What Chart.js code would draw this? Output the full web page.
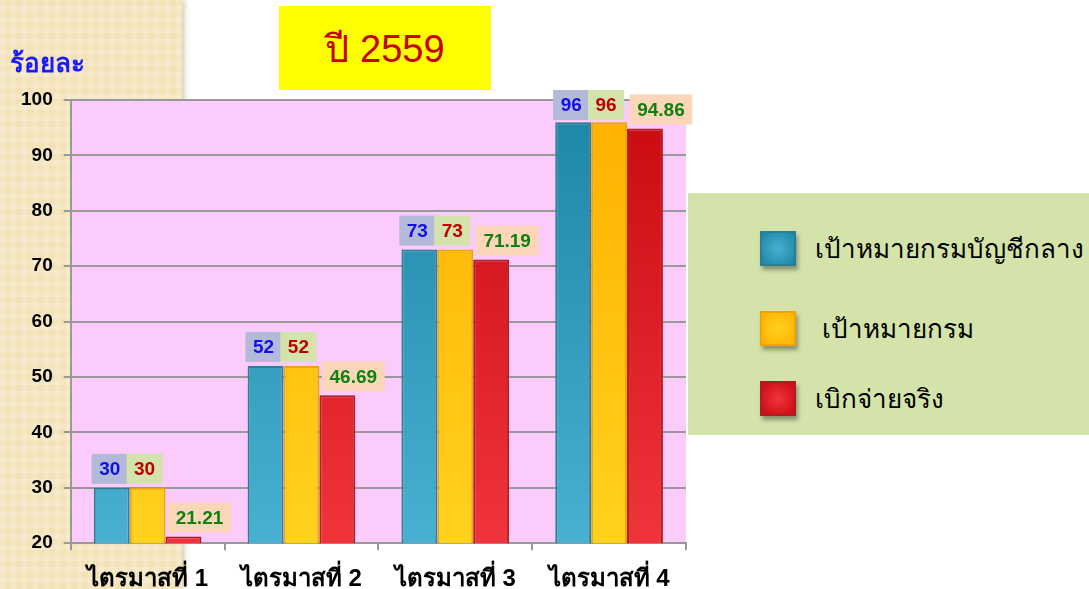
<!DOCTYPE html>
<html>
<head>
<meta charset="utf-8">
<script src="https://cdn.jsdelivr.net/npm/chart.js@4"></script>
<style>
  html, body { margin: 0; padding: 0; width: 1089px; height: 589px; overflow: hidden; background: #fff; }
  body { position: relative; font-family: "Liberation Sans", Arial, "DejaVu Sans", sans-serif; }
  .strip {
    position: absolute; left: 0; top: 0; width: 182px; height: 589px;
    background-color: #f3e2b6;
    background-image:
      linear-gradient(90deg, rgba(255,255,255,0.18) 50%, transparent 50%),
      linear-gradient(0deg, rgba(255,255,255,0.18) 50%, transparent 50%);
    background-size: 11px 11px;
    box-shadow: 3px 0 5px rgba(150,120,60,0.35);
  }
  .title {
    position: absolute; left: 279px; top: 6px; width: 212px; height: 84px;
    background: #ffff00; color: #c80000; font-size: 38px;
    display: flex; align-items: center; justify-content: center;
  }
  .ytitle { position: absolute; left: 10px; top: 42px; color: #1a1aff; font-size: 26px; font-weight: bold; }
  #chart { position: absolute; left: 0; top: 0; }
  .legend {
    position: absolute; left: 688px; top: 193px; width: 401px; height: 242px;
    background: #d3e3a9;
  }
  .legend .item { position: absolute; left: 72px; display: flex; align-items: center; font-size: 26px; color: #000; white-space: nowrap; }
  .legend .sw { width: 36px; height: 35px; margin-right: 19px; box-shadow: 2px 4px 4px rgba(0,0,0,0.35); box-sizing: border-box; border: 2px solid; flex: none; }
</style>
</head>
<body>
<div class="strip"></div>
<canvas id="chart" width="1089" height="619" style="width:1089px;height:619px"></canvas>
<div class="title">ปี 2559</div>
<div class="ytitle">ร้อยละ</div>
<div class="legend" id="legend"></div>
<script>
// ข้อมูล
const quarters = ['ไตรมาสที่ 1', 'ไตรมาสที่ 2', 'ไตรมาสที่ 3', 'ไตรมาสที่ 4'];
const seriesNames = ['เป้าหมายกรมบัญชีกลาง', ' เป้าหมายกรม', 'เบิกจ่ายจริง'];
const targetCGD = [30, 52, 73, 96];
const targetDept = [30, 52, 73, 96];
const actualPaid = [21.21, 46.69, 71.19, 94.86];
const yTicks = [20, 30, 40, 50, 60, 70, 80, 90, 100];

const barTop = ['#1c86a6', '#ffb000', '#c80a10'];
const barBottom = ['#48b0d0', '#ffd21e', '#f0343c'];
const barBorder = ['#2a7f96', '#f0a400', '#b01c22'];
const labelBg = ['#b3b9d9', '#d3e3ab', '#fbd6b8'];
const labelColor = ['#1010e6', '#c00000', '#108010'];
const labelShift = [-2, -3, 16];

function grad(i) {
    return (context) => {
        const chart = context.chart;
        const area = chart.chartArea;
        if (!area) return barTop[i];
        const g = chart.ctx.createLinearGradient(0, area.top, 0, area.bottom);
        g.addColorStop(0, barTop[i]);
        g.addColorStop(1, barBottom[i]);
        return g;
    };
}

const plotBg = {
    id: 'plotBg',
    beforeDraw(chart) {
        const { ctx, chartArea: a } = chart;
        ctx.save();
        ctx.fillStyle = '#facbfb';
        ctx.fillRect(a.left, a.top, a.right - a.left, a.bottom - a.top);
        ctx.restore();
    }
};

// ป้ายค่าเหนือแท่ง
const valueLabels = {
    id: 'valueLabels',
    afterDatasetsDraw(chart) {
        const ctx = chart.ctx;
        ctx.save();
        ctx.font = 'bold 19px "Liberation Sans", Arial, sans-serif';
        ctx.textAlign = 'center';
        ctx.textBaseline = 'middle';
        chart.data.datasets.forEach((ds, i) => {
            const meta = chart.getDatasetMeta(i);
            meta.data.forEach((bar, j) => {
                const txt = String(ds.data[j]);
                const w = ctx.measureText(txt).width + 15;
                const h = 30;
                const cx = bar.x + labelShift[i];
                const b = bar.y - 4 < chart.chartArea.top + h ? Math.max(bar.y - 4, 120) : bar.y - 4;
                ctx.fillStyle = labelBg[i];
                ctx.fillRect(cx - w / 2, b - h, w, h);
                ctx.fillStyle = labelColor[i];
                ctx.fillText(txt, cx, b - h / 2 + 1);
            });
        });
        ctx.restore();
    }
};

const datasets = [targetCGD, targetDept, actualPaid].map((d, i) => ({
    label: seriesNames[i],
    data: d,
    backgroundColor: grad(i),
    borderColor: barBorder[i],
    borderWidth: 2,
    categoryPercentage: 0.7,
    barPercentage: 1.0
}));

new Chart(document.getElementById('chart'), {
    type: 'bar',
    data: { labels: quarters, datasets },
    options: {
        responsive: false,
        animation: false,
        layout: { padding: { left: 10, right: 403, top: 100, bottom: 10 } },
        plugins: { legend: { display: false }, tooltip: { enabled: false } },
        scales: {
            y: {
                min: 20, max: 100,
                afterBuildTicks: (axis) => { axis.ticks = yTicks.map(v => ({ value: v })); },
                ticks: { color: '#000', font: { size: 19, weight: 'bold', family: '"Liberation Sans", Arial, sans-serif' }, padding: 11 },
                grid: { color: '#999', lineWidth: 2, tickLength: 7 },
                border: { color: '#999', width: 2 }
            },
            x: {
                ticks: { color: '#000', font: { size: 24, weight: 'bold', family: '"Liberation Sans", Arial, sans-serif' }, padding: 15 },
                grid: { offset: true, drawOnChartArea: false, color: '#999', lineWidth: 2, tickLength: 7 },
                border: { color: '#999', width: 2 }
            }
        }
    },
    plugins: [plotBg, valueLabels]
});

// legend
const legend = document.getElementById('legend');
const legendTops = [35, 115, 185];
seriesNames.forEach((name, i) => {
    const item = document.createElement('div');
    item.className = 'item';
    item.style.top = legendTops[i] + 'px';
    const sw = document.createElement('div');
    sw.className = 'sw';
    sw.style.background = `radial-gradient(circle, ${barBottom[i]} 0%, ${barTop[i]} 100%)`;
    sw.style.borderColor = barBorder[i];
    const t = document.createElement('span');
    t.textContent = name;
    t.style.whiteSpace = 'pre';
    item.appendChild(sw);
    item.appendChild(t);
    legend.appendChild(item);
});
</script>
</body>
</html>
